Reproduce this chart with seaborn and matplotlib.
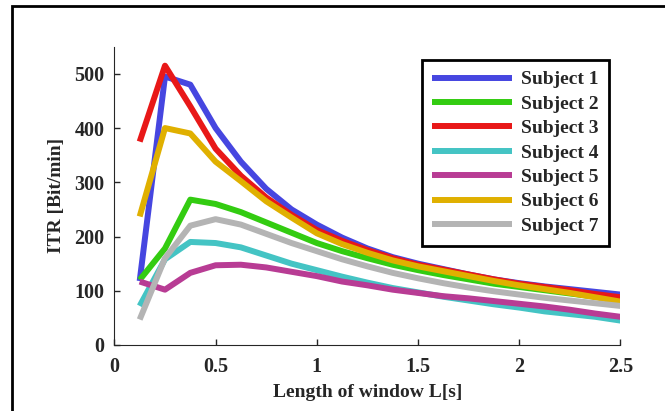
import matplotlib
matplotlib.use("Agg")
import matplotlib.pyplot as plt
import seaborn as sns
import numpy as np
import pandas as pd

window = [0.125, 0.25, 0.375, 0.5, 0.625, 0.75, 0.875, 1.0, 1.125, 1.25,
          1.375, 1.5, 1.625, 1.75, 1.875, 2.0, 2.125, 2.25, 2.375, 2.5]

subject1 = [118, 495, 480, 400, 338, 288, 250, 222, 198, 178,
            162, 150, 140, 130, 121, 114, 108, 103, 98, 93]
subject2 = [120, 178, 268, 260, 245, 226, 207, 188, 173, 160,
            148, 138, 129, 121, 113, 107, 101, 95, 89, 84]
subject3 = [375, 515, 440, 362, 312, 272, 240, 212, 192, 175,
            160, 148, 139, 130, 121, 113, 107, 101, 94, 88]
subject4 = [72, 158, 190, 188, 180, 165, 150, 138, 126, 115,
            105, 97, 89, 82, 75, 69, 62, 57, 52, 45]
subject5 = [117, 102, 133, 147, 148, 143, 135, 127, 117, 110,
            102, 96, 90, 86, 81, 76, 71, 65, 58, 52]
subject6 = [237, 400, 390, 338, 302, 265, 235, 206, 186, 170,
            156, 145, 136, 127, 118, 110, 103, 96, 88, 80]
subject7 = [47, 160, 220, 232, 222, 205, 188, 173, 158, 145,
            133, 123, 114, 106, 99, 93, 87, 82, 77, 72]

names = ["Subject 1", "Subject 2", "Subject 3", "Subject 4",
         "Subject 5", "Subject 6", "Subject 7"]
series = [subject1, subject2, subject3, subject4, subject5, subject6, subject7]
colors = ["#4646e0", "#33cc11", "#e81818", "#44c4c4", "#b83c94", "#e0b000", "#b4b4b4"]

frames = [pd.DataFrame({"L": window, "ITR": vals, "subject": name})
          for name, vals in zip(names, series)]
df = pd.concat(frames, ignore_index=True)

sns.set_style("ticks")
plt.rcParams["font.family"] = ["Liberation Serif", "DejaVu Serif"]
plt.rcParams["font.weight"] = "bold"

fig = plt.figure(figsize=(6.65, 4.11), dpi=100)
ax = fig.add_axes([0.172, 0.1606, 0.761, 0.7258])

sns.lineplot(data=df, x="L", y="ITR", hue="subject", palette=colors,
             linewidth=4.3, ax=ax, legend=True, solid_capstyle="butt")

ax.set_xlim(0, 2.5)
ax.set_ylim(0, 550)
ax.set_xticks([0, 0.5, 1, 1.5, 2, 2.5])
ax.set_xticklabels(["0", "0.5", "1", "1.5", "2", "2.5"])
ax.set_yticks([0, 100, 200, 300, 400, 500])
ax.tick_params(direction="in", length=4, width=1, labelsize=14.5)
ax.tick_params(axis="x", pad=9)
ax.tick_params(axis="y", pad=7)
for lab in ax.get_xticklabels() + ax.get_yticklabels():
    lab.set_fontweight("bold")
ax.spines["top"].set_visible(False)
ax.spines["right"].set_visible(False)
ax.set_xlabel("Length of window L[s]", fontsize=14, fontweight="bold", labelpad=5)
ax.set_ylabel("ITR [Bit/min]", fontsize=14, fontweight="bold", labelpad=7)

leg = ax.legend(loc="upper right", bbox_to_anchor=(0.916, 0.854),
                bbox_transform=fig.transFigure, borderaxespad=0,
                fancybox=False, edgecolor="black", framealpha=1,
                handlelength=4.1, handletextpad=0.45, labelspacing=0.35,
                borderpad=0.55, prop={"size": 14, "weight": "bold"})
leg.get_frame().set_linewidth(2)
for h in leg.get_lines():
    h.set_solid_capstyle("butt")

# outer frame around the figure
fig.patches.append(plt.Rectangle((12 / 665, -0.05), 1.1, 1 - 6 / 411 + 0.05,
                                 transform=fig.transFigure, fill=False,
                                 edgecolor="black", linewidth=2))

fig.savefig("out.png", dpi=100)
